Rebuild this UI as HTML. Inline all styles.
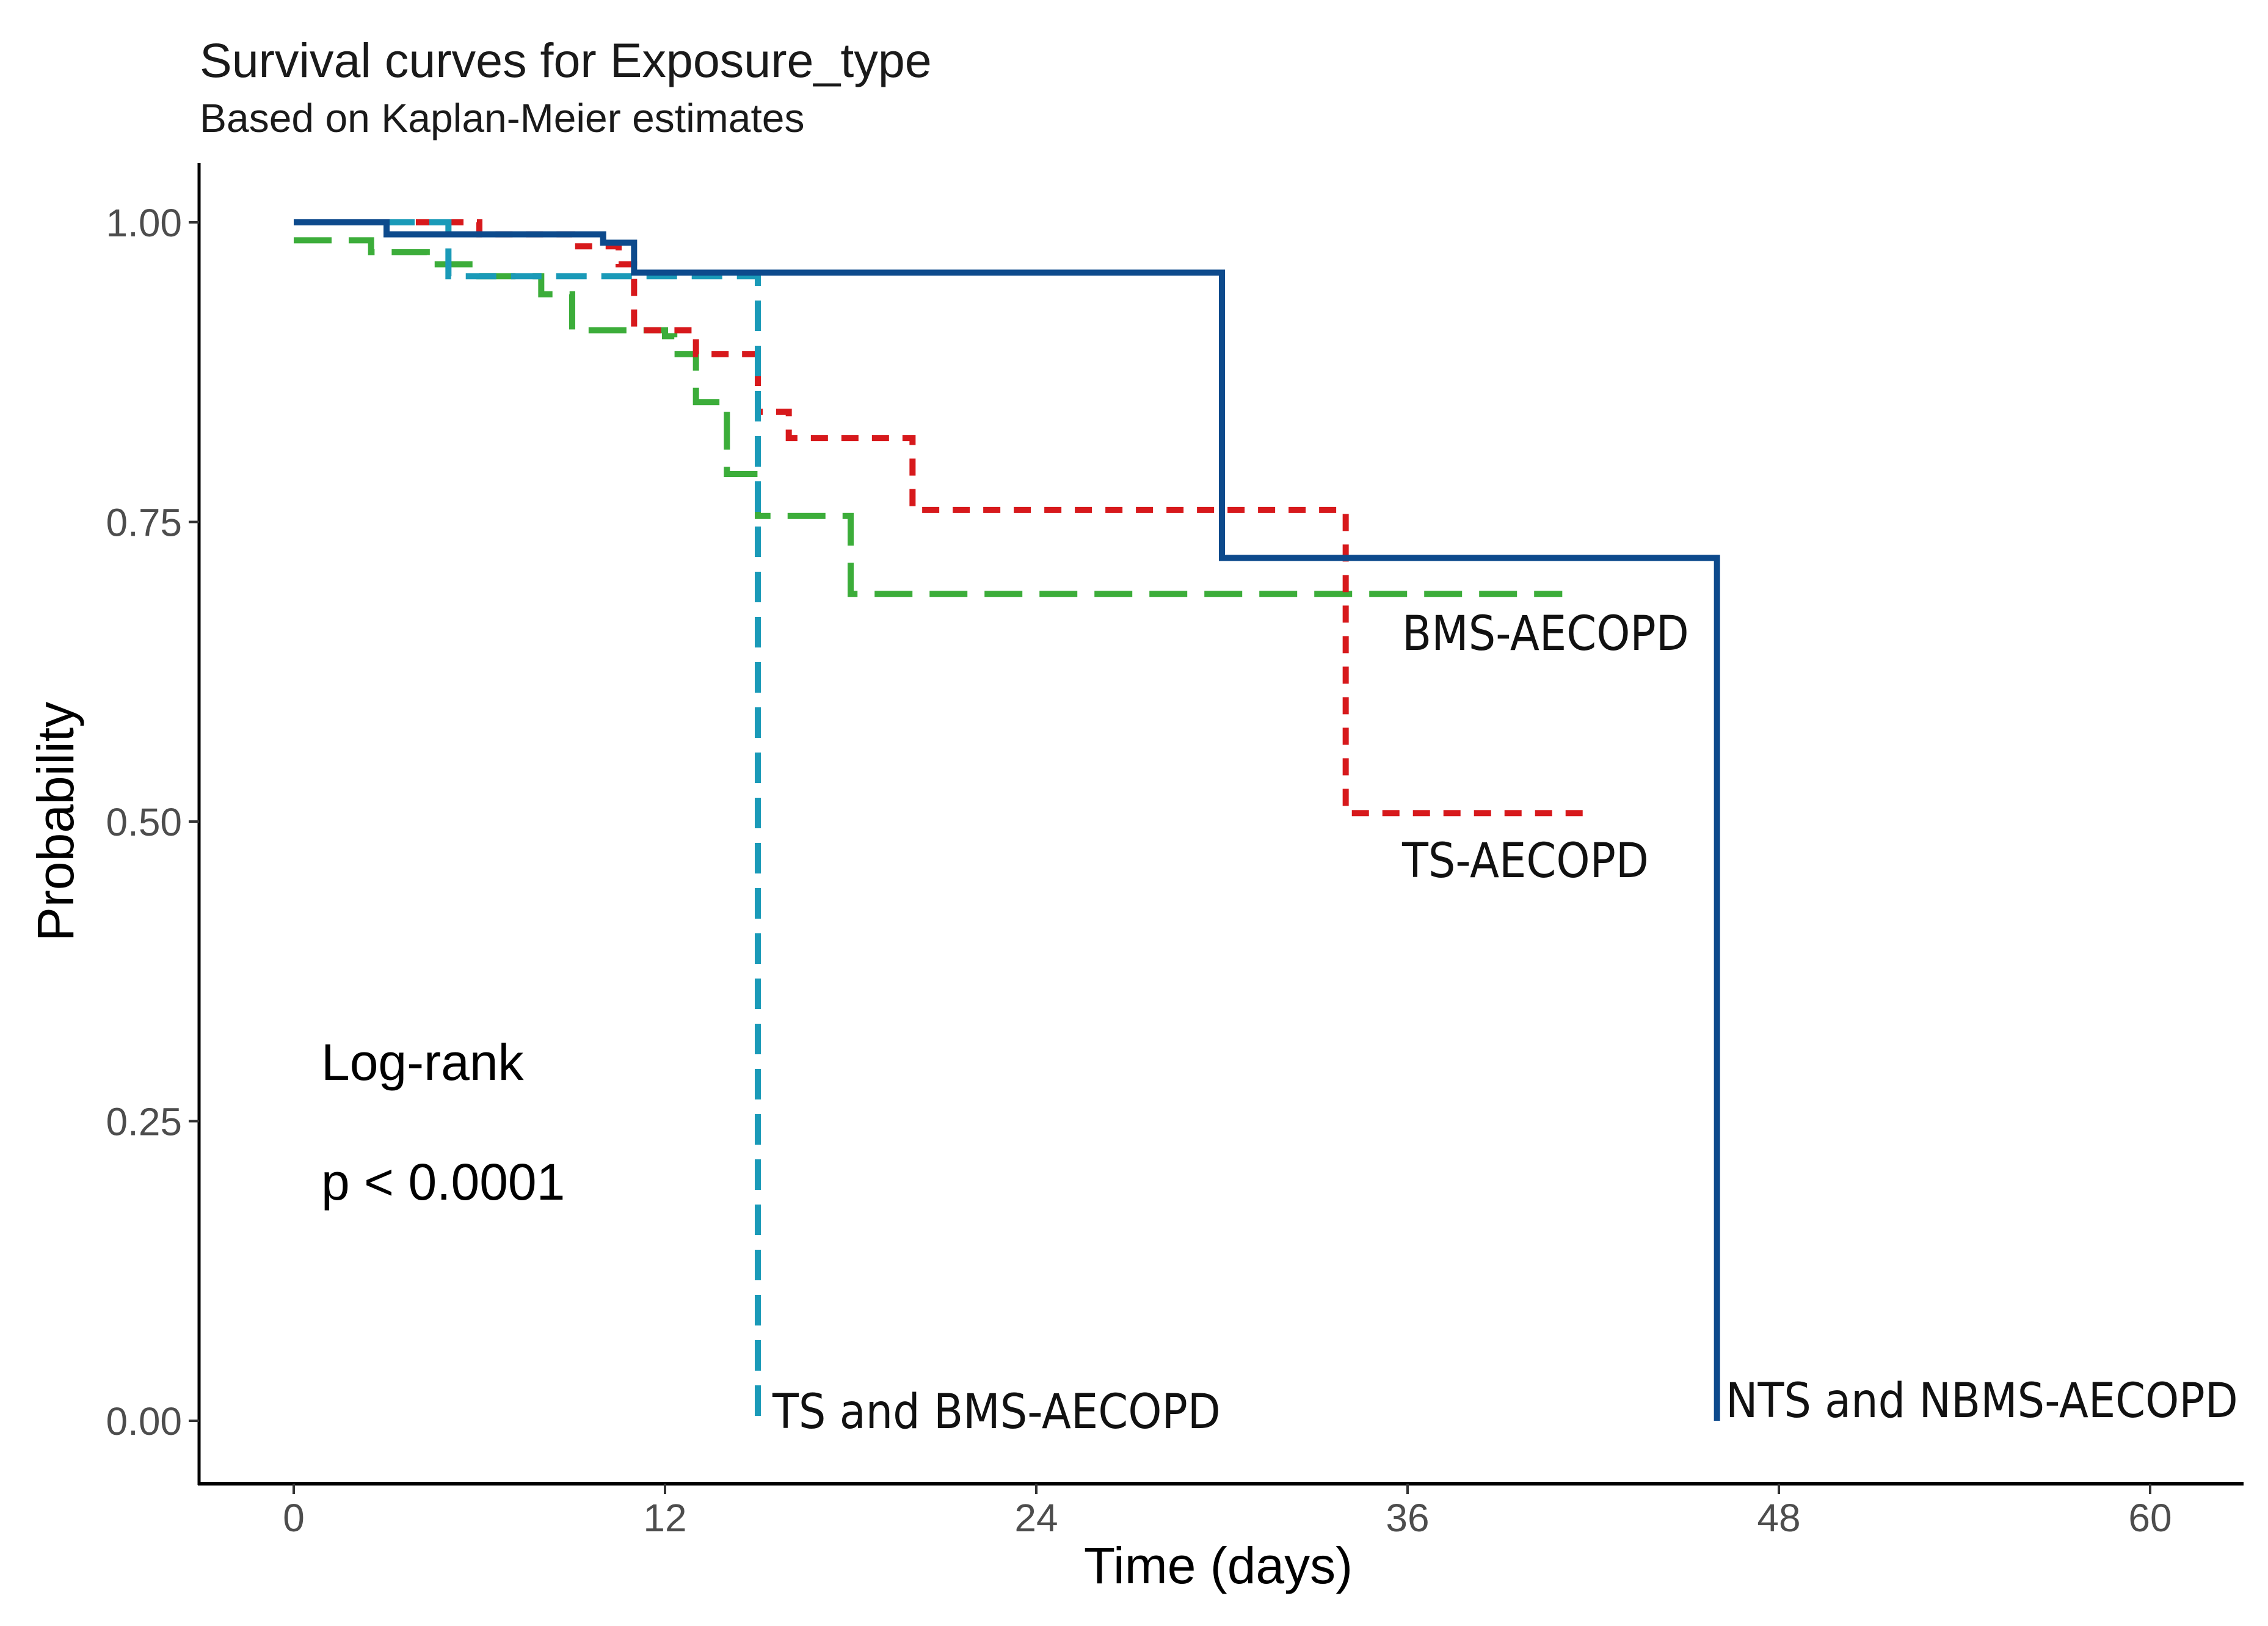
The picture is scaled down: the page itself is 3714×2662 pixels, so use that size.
<!DOCTYPE html>
<html><head><meta charset="utf-8"><style>
html,body{margin:0;padding:0;background:#fff;}
svg{display:block;font-family:"Liberation Sans",sans-serif;}
</style></head><body>
<svg id="chart" width="3714" height="2662" viewBox="0 0 3714 2662" xmlns="http://www.w3.org/2000/svg">
<text x="327" y="126" font-size="79" fill="#1a1a1a">Survival curves for Exposure_type</text>
<text x="327" y="216" font-size="66" fill="#1a1a1a">Based on Kaplan-Meier estimates</text>
<g id="axes"></g>
<g id="curves"></g>
<text x="1995" y="2592" font-size="84" text-anchor="middle" fill="#000">Time (days)</text>
<text transform="translate(120,1345) rotate(-90)" font-size="84" text-anchor="middle" fill="#000">Probability</text>
<text x="526" y="1768" font-size="84" fill="#000">Log-rank</text>
<text x="526" y="1964" font-size="84" fill="#000">p &lt; 0.0001</text>
<g font-family="'DejaVu Sans Condensed','DejaVu Sans',sans-serif" font-size="78" fill="#111">
<text x="2296" y="1064">BMS-AECOPD</text>
<text x="2296" y="1436">TS-AECOPD</text>
<text x="1265" y="2338">TS and BMS-AECOPD</text>
<text x="2826" y="2320">NTS and NBMS-AECOPD</text>
</g>
</svg>
<script>
const xTicks=[0,12,24,36,48,60];
const yTicks=[0,0.25,0.5,0.75,1];
const yTickLabels=["0.00","0.25","0.50","0.75","1.00"];
const ntsTimes=[0,3,10,11,30,46];
const ntsSurv=[1,0.99,0.983,0.958,0.72,0];
const ntsEnd=46;
const tsTimes=[0,6,9,10.5,11,13,15,16,20,34];
const tsSurv=[1,0.99,0.98,0.965,0.91,0.89,0.842,0.82,0.76,0.507];
const tsEnd=42;
const bmsTimes=[0,2.5,4.3,6,8,9,12,12.3,13,14,15,18];
const bmsSurv=[0.985,0.975,0.965,0.955,0.94,0.91,0.905,0.89,0.85,0.79,0.755,0.69];
const bmsEnd=41;
const tsbmsTimes=[0,5,15];
const tsbmsSurv=[1,0.955,0];
const tsbmsEnd=15;

const X=t=>481+(3521-481)*t/60;
const Y=p=>2326-(2326-364)*p;
const NS="http://www.w3.org/2000/svg";
const axes=document.getElementById('axes');
function mk(tag,attrs,parent){const e=document.createElementNS(NS,tag);for(const k in attrs)e.setAttribute(k,attrs[k]);parent.appendChild(e);return e;}
let yl=mk('line',{x1:326,y1:267,x2:326,y2:2431,stroke:'#000','stroke-width':5},axes);


let xl=mk('line',{x1:324,y1:2429,x2:3674,y2:2429,stroke:'#000','stroke-width':6},axes);


xTicks.forEach(t=>{
  mk('line',{x1:X(t),y1:2429,x2:X(t),y2:2446,stroke:'#333','stroke-width':4},axes);
  const tx=mk('text',{x:X(t),y:2507,'font-size':64,'text-anchor':'middle',fill:'#4d4d4d'},axes);
  tx.textContent=t;
  
  
});
yTicks.forEach((p,i)=>{
  mk('line',{x1:309,y1:Y(p),x2:326,y2:Y(p),stroke:'#333','stroke-width':4},axes);
  const tx=mk('text',{x:298,y:Y(p)+23,'font-size':64,'text-anchor':'end',fill:'#4d4d4d'},axes);
  tx.textContent=yTickLabels[i];
  
  
});
const curves=document.getElementById('curves');
function stepPath(ts,ss,end){
  let d=`M${X(ts[0])},${Y(ss[0])}`;
  for(let i=1;i<ts.length;i++){d+=` H${X(ts[i])} V${Y(ss[i])}`;}
  d+=` H${X(end)}`;return d;
}
const g1=mk('path',{d:stepPath(bmsTimes,bmsSurv,bmsEnd),fill:'none',stroke:'#3cad3a','stroke-width':10,'stroke-dasharray':'62 28'},curves);


const g2=mk('path',{d:stepPath(tsTimes,tsSurv,tsEnd),fill:'none',stroke:'#d7191c','stroke-width':10,'stroke-dasharray':'28 22'},curves);


const g3=mk('path',{d:stepPath(tsbmsTimes,tsbmsSurv,tsbmsEnd),fill:'none',stroke:'#1a9ab8','stroke-width':10,'stroke-dasharray':'50 24'},curves);


const g4=mk('path',{d:stepPath(ntsTimes,ntsSurv,ntsEnd),fill:'none',stroke:'#0d4a8c','stroke-width':10},curves);


</script>
</body></html>
